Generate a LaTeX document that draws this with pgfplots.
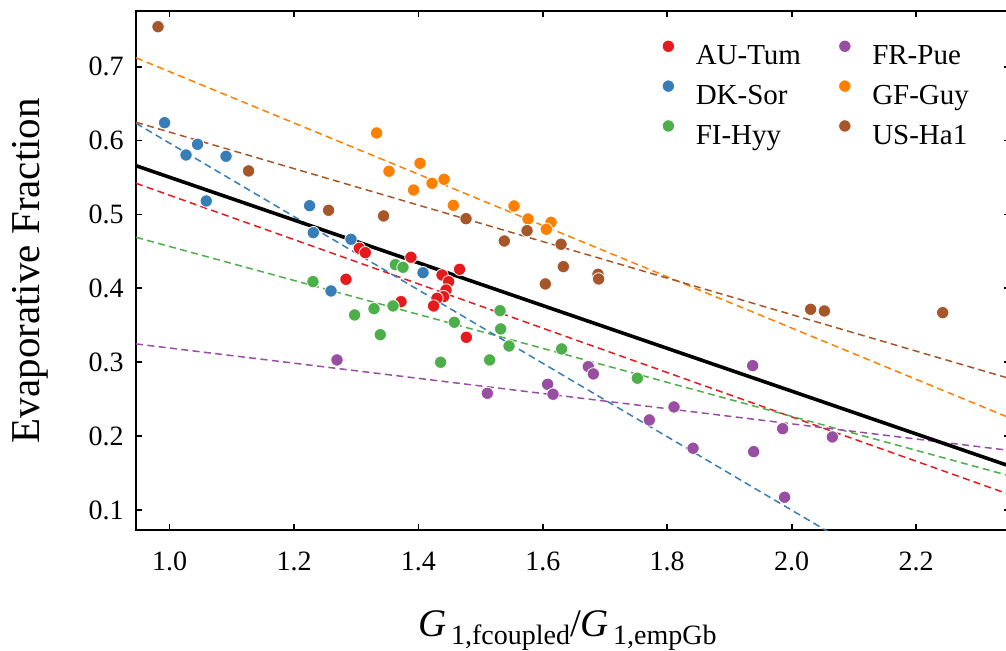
\documentclass[border=0pt]{standalone}
\usepackage{pgfplots}
\pgfplotsset{compat=1.18}
\usepackage{fontspec}
\setmainfont{Liberation Serif}
\definecolor{cred}{HTML}{E41A1C}
\definecolor{cblue}{HTML}{377EB8}
\definecolor{cgreen}{HTML}{4DAF4A}
\definecolor{cpurple}{HTML}{984EA3}
\definecolor{corange}{HTML}{FF7F00}
\definecolor{cbrown}{HTML}{A65628}
\newcommand{\Gsub}[1]{{\fontsize{19.5}{19.5}\selectfont\itshape G}\hspace{2pt}\raisebox{-4.3pt}{\fontsize{14}{14}\selectfont #1}}
\begin{document}
\begin{tikzpicture}
\useasboundingbox (-68pt,-60.35pt) rectangle (435pt,265.1pt);
\begin{axis}[
  scale only axis, width=437pt, height=259.6pt,
  xmin=0.946, xmax=2.351, ymin=0.0727, ymax=0.7754,
  axis line style={line width=1pt},
  tick style={line width=0.9pt, black},
  major tick length=3.2pt,
  tick align=inside,
  xtick={1.0,1.2,1.4,1.6,1.8,2.0,2.2},
  ytick={0.1,0.2,0.3,0.4,0.5,0.6,0.7},
  tick label style={font=\fontsize{14}{14}\selectfont, /pgf/number format/assume math mode=true,
    /pgf/number format/fixed, /pgf/number format/fixed zerofill, /pgf/number format/precision=1},
  xticklabel style={anchor=base, yshift=-20.3pt},
  yticklabel style={anchor=east, inner sep=0pt, xshift=-6pt},
  ylabel={Evaporative Fraction},
  ylabel style={at={(axis description cs:-0.1208,0.5)}, anchor=center, rotate=0, font=\fontsize{20.5}{20.5}\selectfont},
  xlabel={\Gsub{1,fcoupled}{\fontsize{19.5}{19.5}\selectfont/}\Gsub{1,empGb}},
  xlabel style={at={(axis description cs:0.494,-0.2045)}, anchor=base},
  legend columns=3, transpose legend,
  legend style={draw=none, fill=none, inner sep=0pt, outer sep=0pt,
    at={(0.602,0.944)}, anchor=north west,
    font=\fontsize{14.5}{14.5}\selectfont,
    nodes={inner sep=0pt},
    column sep=10.6pt, /tikz/every even column/.append style={column sep=18.8pt},
    row sep=6.2pt},
  legend image code/.code={\draw[#1] plot coordinates {(0pt,4.8pt)};},
  legend cell align=left,
  clip=true,
]
% regression lines
\addplot[forget plot, cred, line width=0.75pt, dash pattern=on 3.5pt off 2.2pt] coordinates {(0.946,0.5422) (2.351,0.1208)};
\addplot[forget plot, cgreen, line width=0.75pt, dash pattern=on 3.5pt off 2.2pt] coordinates {(0.946,0.4691) (2.351,0.1461)};
\addplot[forget plot, cpurple, line width=0.75pt, dash pattern=on 3.5pt off 2.2pt] coordinates {(0.946,0.3248) (2.351,0.1806)};
\addplot[forget plot, cblue, line width=0.75pt, dash pattern=on 3.5pt off 2.2pt] coordinates {(0.946,0.6234) (2.351,-0.0745)};
\addplot[forget plot, corange, line width=0.75pt, dash pattern=on 3.5pt off 2.2pt] coordinates {(0.946,0.712) (2.351,0.2245)};
\addplot[forget plot, cbrown, line width=0.75pt, dash pattern=on 3.5pt off 2.2pt] coordinates {(0.946,0.6248) (2.351,0.2778)};
\addplot[forget plot, black, line width=1.8pt] coordinates {(0.946,0.566) (2.351,0.1593)};
% points
\addplot[only marks, mark=*, mark size=3.1pt, mark options={draw=white, line width=0.4pt, fill=cred}] coordinates {
(1.305,0.4543) (1.3146,0.4483) (1.388,0.4421) (1.2836,0.4123) (1.372,0.382) (1.438,0.4181) (1.4662,0.4258)
(1.4486,0.4091) (1.4444,0.3978) (1.4405,0.3888) (1.4299,0.3866) (1.4244,0.3762) (1.477,0.3338)};
\addlegendentry{\strut AU-Tum}
\addplot[only marks, mark=*, mark size=3.1pt, mark options={draw=white, line width=0.4pt, fill=cblue}] coordinates {
(0.992,0.6242) (1.045,0.595) (1.0264,0.5805) (1.0907,0.5788) (1.059,0.5183) (1.2251,0.5119) (1.231,0.4754)
(1.2916,0.4664) (1.4074,0.4212) (1.2595,0.3965)};
\addlegendentry{\strut DK-Sor}
\addplot[only marks, mark=*, mark size=3.1pt, mark options={draw=white, line width=0.4pt, fill=cgreen}] coordinates {
(1.2305,0.4091) (1.3629,0.4321) (1.3752,0.4285) (1.2974,0.364) (1.3286,0.3725) (1.3592,0.3762) (1.3387,0.3373)
(1.4577,0.3541) (1.5312,0.3698) (1.5322,0.3451) (1.5457,0.322) (1.6302,0.318) (1.4357,0.3) (1.5145,0.3031) (1.7519,0.2784)};
\addlegendentry{\strut FI-Hyy}
\addplot[only marks, mark=*, mark size=3.1pt, mark options={draw=white, line width=0.4pt, fill=cpurple}] coordinates {
(1.2691,0.3031) (1.5108,0.258) (1.6077,0.2702) (1.6164,0.2567) (1.6731,0.2941) (1.6812,0.2842) (1.7712,0.2219)
(1.8109,0.2395) (1.8415,0.1836) (1.9373,0.2954) (1.9389,0.179) (1.9855,0.2101) (1.9887,0.1173) (2.0654,0.1989)};
\addlegendentry{\strut FR-Pue}
\addplot[only marks, mark=*, mark size=3.1pt, mark options={draw=white, line width=0.4pt, fill=corange}] coordinates {
(1.3328,0.6103) (1.4026,0.5693) (1.3527,0.5585) (1.3923,0.5331) (1.4219,0.5422) (1.4412,0.5476) (1.4561,0.5124)
(1.5537,0.5115) (1.5762,0.4939) (1.6132,0.4894) (1.6056,0.48)};
\addlegendentry{\strut GF-Guy}
\addplot[only marks, mark=*, mark size=3.1pt, mark options={draw=white, line width=0.4pt, fill=cbrown}] coordinates {
(0.9814,0.7541) (1.127,0.5589) (1.2556,0.5057) (1.344,0.498) (1.4765,0.4943) (1.5746,0.4781) (1.5381,0.4641)
(1.6293,0.4597) (1.633,0.4294) (1.604,0.406) (1.6887,0.4191) (1.6897,0.4127) (2.0305,0.3717) (2.0526,0.3694) (2.2428,0.3671)};
\addlegendentry{\strut US-Ha1}
\end{axis}
\end{tikzpicture}
\end{document}
